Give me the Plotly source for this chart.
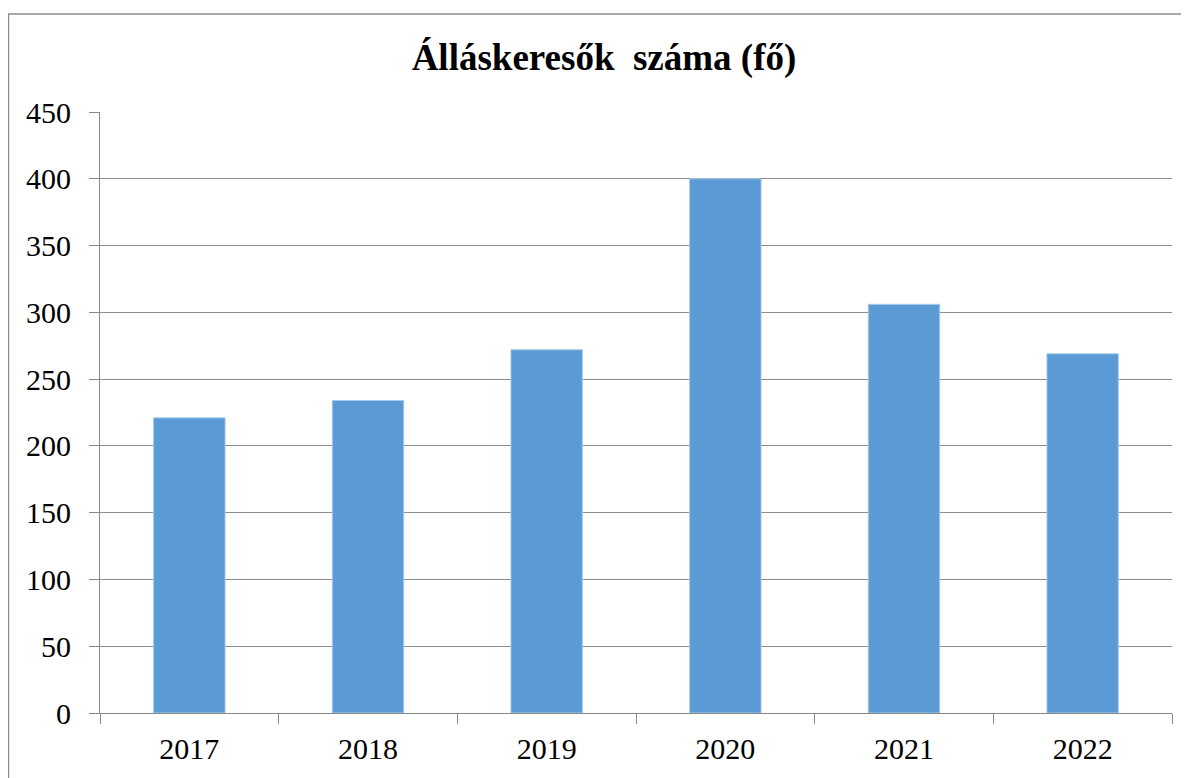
import plotly.graph_objects as go

years = ["2017", "2018", "2019", "2020", "2021", "2022"]
values = [221, 234, 272, 400, 306, 269]
title_text = "Álláskeresők  száma (fő)"
y_ticks = [0, 50, 100, 150, 200, 250, 300, 350, 400, 450]

# page body has an 8px margin; figure is laid out to land on screen coords
OFF = 8
W, H = 1189 - OFF, 778 - OFF
L, R, T, B = 100 - OFF, 17, 112 - OFF, 65
pw = W - L - R
ph = H - T - B

SERIF = "'Times New Roman', 'Liberation Serif', 'DejaVu Serif', serif"

fig = go.Figure(go.Bar(
    x=years, y=values,
    marker=dict(color="#5B9BD5", line=dict(color="#A9CBEA", width=1)),
    width=0.4,
))

def px_x(x):
    return (x - OFF - L) / pw

def px_y(y):
    return (H - B - (y - OFF)) / ph

fig.update_layout(
    width=W, height=H,
    margin=dict(l=L, r=R, t=T, b=B),
    paper_bgcolor="white", plot_bgcolor="white",
    font=dict(family=SERIF, color="black"),
    title=dict(text="<b>" + title_text + "</b>", x=px_x(604), xanchor="center",
               xref="paper", y=1 - (57 - OFF) / H, yanchor="middle",
               font=dict(family=SERIF, size=37, color="black")),
    showlegend=False,
    xaxis=dict(
        type="category", tickson="boundaries", ticks="outside", ticklen=10,
        tickcolor="#888888", showline=True, linecolor="#888888", linewidth=1,
        showgrid=False, tickfont=dict(family=SERIF, size=30), ticklabelstandoff=9,
    ),
    yaxis=dict(
        range=[0, 450], tickvals=y_ticks, ticks="outside", ticklen=10,
        tickcolor="#888888", showline=True, linecolor="#888888", linewidth=1,
        showgrid=True, gridcolor="#8c8c8c", gridwidth=1, zeroline=False,
        tickfont=dict(family=SERIF, size=30), ticklabelstandoff=12,
    ),
    shapes=[
        dict(type="line", xref="paper", yref="paper", x0=px_x(8), x1=px_x(1200),
             y0=px_y(14), y1=px_y(14), line=dict(color="#8c8c8c", width=1.5)),
        dict(type="line", xref="paper", yref="paper", x0=px_x(8.5), x1=px_x(8.5),
             y0=px_y(14), y1=px_y(800), line=dict(color="#8c8c8c", width=1.5)),
    ],
)

fig.write_html("out.html")
